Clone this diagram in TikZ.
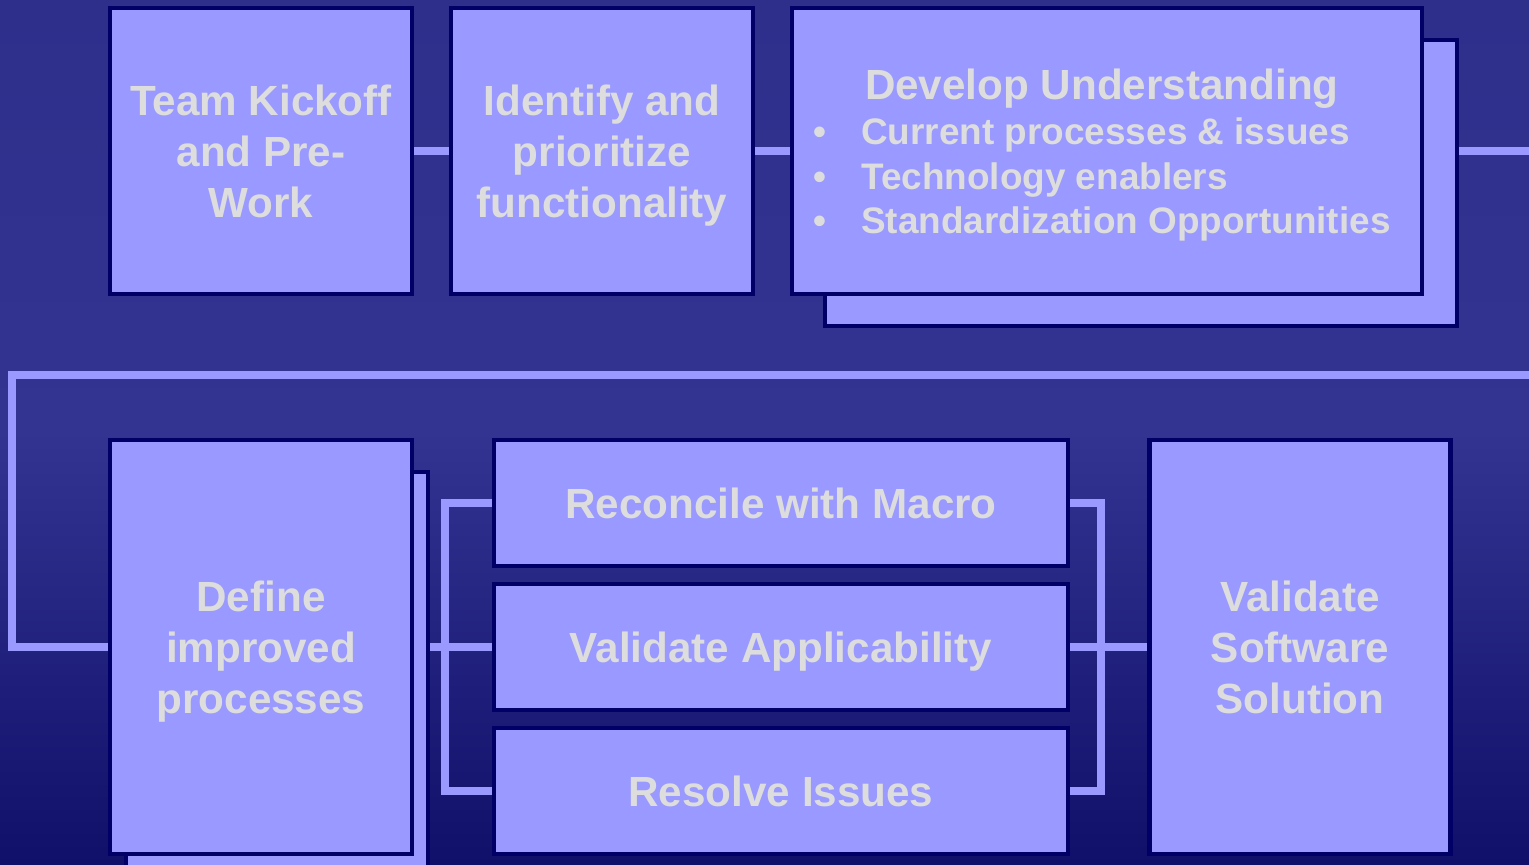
\documentclass[tikz,border=0pt]{standalone}
\usepackage{fontspec}
\setmainfont{Liberation Sans}
\usepackage{xcolor}
\usetikzlibrary{backgrounds}
\definecolor{bgtop}{HTML}{2E2E8B}
\definecolor{bgmid}{HTML}{333392}
\definecolor{bgbot}{HTML}{10106A}
\definecolor{boxfill}{HTML}{9999FF}
\definecolor{boxline}{HTML}{000066}
\definecolor{boxtext}{HTML}{DDDDDD}

\begin{document}
\begin{tikzpicture}[x=0.01cm, y=-0.01cm,
            stepbox/.style={draw=boxline, fill=boxfill, line width=1.2pt, text=boxtext, align=center, inner sep=0pt, text depth=0pt, font=\bfseries\fontsize{12}{14.5}\selectfont},
            backbox/.style={draw=boxline, fill=boxfill, line width=1.2pt, inner sep=0pt},
            link/.style={draw=boxfill, line width=2.3pt}]
            \useasboundingbox (0,0) rectangle (1529,865);

            \node[stepbox, minimum width=3.02cm, minimum height=2.86cm] (kick) at (261,151) {Team Kickoff\\and Pre-\\Work};
            \node[stepbox, minimum width=3.02cm, minimum height=2.86cm] (ident) at (602,151) {Identify and\\prioritize\\functionality};
            \node[backbox, minimum width=6.32cm, minimum height=2.86cm] (devback) at (1141,183) {};
            \node[stepbox, minimum width=6.30cm, minimum height=2.86cm, font=\bfseries\fontsize{10.5}{12.6}\selectfont] (dev) at (1107,151) {
                \begin{tabular}[b]{@{}c@{\hspace{10pt}}l@{}}
                    \multicolumn{2}{c}{\fontsize{12}{14.5}\selectfont Develop Understanding}\\[0.3pt]
                    \textbullet & Current processes \& issues\\
                    \textbullet & Technology enablers\\
                    \textbullet & Standardization Opportunities
                \end{tabular}
            };

            \node[backbox, minimum width=3.02cm, minimum height=4.14cm] (defback) at (277,679) {};
            \node[stepbox, minimum width=3.02cm, minimum height=4.14cm] (define) at (261,647) {Define\\improved\\processes};
            \node[stepbox, minimum width=5.74cm, minimum height=1.26cm] (recon) at (781,503) {Reconcile with Macro};
            \node[stepbox, minimum width=5.74cm, minimum height=1.26cm] (applic) at (781,647) {Validate Applicability};
            \node[stepbox, minimum width=5.74cm, minimum height=1.26cm] (resolve) at (781,791) {Resolve Issues};
            \node[stepbox, minimum width=3.01cm, minimum height=4.14cm] (soft) at (1300,647) {Validate\\Software\\Solution};

            \coordinate (offtop) at (1570,151);
            \coordinate (offbot) at (1570,375);
            \coordinate (turn) at (12,375);

            \begin{scope}[on background layer]
                \shade[top color=bgtop, bottom color=bgmid] (0,0) rectangle (1529,430);
                \shade[top color=bgmid, bottom color=bgbot] (0,430) rectangle (1529,865);

                \draw[link] (kick.east) -- (ident.west);
                \draw[link] (ident.east) -- (dev.west);
                \draw[link] (dev.east -| devback.east) -- (offtop) -- (offbot) -- (turn) |- (define.west);
                \draw[link] (define.east -| defback.east) -- (applic.west);
                \draw[link] (recon.west) -- ++(-47,0) |- (resolve.west);
                \draw[link] (recon.east) -- ++(31,0) |- (resolve.east);
                \draw[link] (applic.east) -- (soft.west);
            \end{scope}
        \end{tikzpicture}
\end{document}
